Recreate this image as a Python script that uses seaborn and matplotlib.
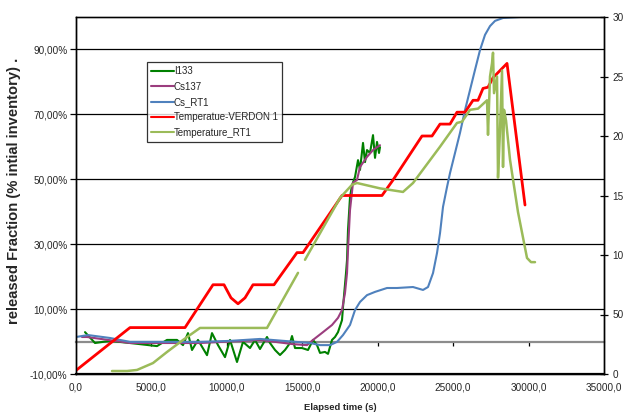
import numpy as np
import pandas as pd
import matplotlib
matplotlib.use("Agg")
import matplotlib.pyplot as plt
import seaborn as sns

# ---------------- data ----------------
i133_t = [597, 1260, 2254, 3580, 5369, 6032, 6695, 7093, 7424, 7690, 8087, 8684, 9015, 9413,
          9877, 10209, 10673, 11070, 11534, 11866, 12197, 12661, 12860, 13192, 13523, 13855,
          14186, 14319, 14518, 14982, 15379, 15711, 15976, 16175, 16506, 16705, 16970, 17169,
          17368, 17633, 17699, 17898, 17965, 18031, 18163, 18296, 18495, 18694, 18826, 19025,
          19158, 19290, 19489, 19688, 19821, 19953, 20086, 20152]
i133_v = [2.9, -0.45, 0.2, -0.45, -1.4, 0.5, 0.5, -1.1, 2.6, -2.6, 0.5, -4.2, 2.6, -1.1,
          -4.8, 0.5, -6.3, -0.1, -2.0, 0.5, -2.3, 1.4, -0.45, -2.6, -4.15, -2.6,
          -0.45, 1.7, -2.0, -2.0, -2.6, 0.5, -1.1, -3.5, -3.2, -3.8, 0.5, 1.4,
          2.9, 6.6, 10.6, 21.1, 25.1, 34.4, 44.5, 48.2, 50.7, 55.9, 52.9, 61.2,
          55.3, 59.0, 58.1, 63.6, 56.6, 61.5, 58.1, 59.9]

cs137_t = [398, 729, 3580, 8220, 12197, 14385, 15313, 15711, 16374, 16970, 17368, 17633,
           17832, 17965, 18031, 18163, 18362, 18627, 18826, 19290, 19688, 20152]
cs137_v = [1.4, 1.4, -0.45, -0.45, 0.5, -0.8, -1.1, 0.5, 2.9, 5.1, 7.3, 9.7,
           15.0, 21.1, 28.2, 40.5, 48.9, 49.8, 53.8, 56.9, 59.0, 60.5]

csrt1_t = [0, 795, 2254, 3580, 8220, 10209, 12197, 15512, 16175, 16837, 17302, 17699, 18163,
           18495, 18826, 19290, 19821, 20616, 21279, 22340, 23003, 23334, 23666, 23931, 24130,
           24328, 24593, 24792, 25124, 25455, 25787, 26118, 26449, 26781, 27113, 27444, 27776,
           28306, 29433]
csrt1_v = [1.4, 2.0, 1.1, -0.1, -0.1, 0.2, 0.8, -0.45, -1.1, -1.1, -0.1, 2.0, 5.1,
           9.7, 12.2, 14.3, 15.3, 16.5, 16.5, 16.8, 15.9, 16.8, 21.1, 27.3, 33.4,
           41.5, 47.6, 51.9, 58.1, 64.3, 71.3, 77.5, 83.7, 89.8, 94.5, 97.2, 98.8,
           99.7, 100.0]

verdon_t = [0, 3580, 7226, 9082, 9811, 10275, 10739, 11203, 11733, 13125, 14650, 15048,
            17633, 20285, 21014, 22936, 23599, 24130, 24792, 25256, 25787, 26317, 26649,
            26980, 27311, 27643, 28571, 29764]
verdon_v = [0.3, 3.9, 3.9, 7.5, 7.5, 6.4, 5.9, 6.4, 7.5, 7.5, 10.2, 10.2,
            15.0, 15.0, 16.3, 20.0, 20.0, 21.0, 21.0, 22.0, 22.0, 23.0, 23.0,
            24.0, 24.1, 24.9, 26.1, 14.2]

rt1_t = [2386, 3381, 4044, 5104, 6032, 7093, 8220, 12661, 14716, np.nan, 15180, 17501,
         18296, 18627, 20152, 21677, 22340, 24130, 25256, 25588, 26118, 26649, 27246,
         27311, 27444, 27576, 27643, 27709, 27908, 27974, 28107, 28240, 28306, 28372,
         28505, 28770, 29300, 29897, 30162, 30427]
rt1_v = [0.25, 0.25, 0.34, 0.92, 1.85, 2.86, 3.87, 3.87, 8.5, np.nan, 9.6, 14.8,
         15.9, 16.05, 15.6, 15.3, 16.05, 19.1, 21.1, 21.2, 22.2, 22.3, 23.0,
         20.1, 25.0, 26.1, 27.0, 23.6, 25.0, 16.5, 20.5, 25.5, 17.4, 22.2,
         21.3, 18.0, 13.6, 9.75, 9.4, 9.4]

x_ticks = [0, 5000, 10000, 15000, 20000, 25000, 30000, 35000]
left_ticks = [-10, 10, 30, 50, 70, 90]
right_ticks = [0, 5, 10, 15, 20, 25, 30]
right_tick_labels = ['0', '50', '10', '15', '20', '25', '30']

series_left = [("I133", i133_t, i133_v, "#008000"),
               ("Cs137", cs137_t, cs137_v, "#9B3D7E"),
               ("Cs_RT1", csrt1_t, csrt1_v, "#4F81BD")]
series_right = [("Temperatue-VERDON 1", verdon_t, verdon_v, "#FF0000"),
                ("Temperature_RT1", rt1_t, rt1_v, "#9BBB59")]

# ---------------- style ----------------
sns.set_style("white")
plt.rcParams['font.family'] = ['Liberation Sans', 'DejaVu Sans']

fig = plt.figure(figsize=(6.25, 4.12), dpi=100)
ax = fig.add_axes([76 / 625, 1 - 374 / 412, 528 / 625, 357 / 412])
ax2 = ax.twinx()

handles = []
for name, t, v, c in series_left:
    df = pd.DataFrame({"t": t, "v": v})
    sns.lineplot(data=df, x="t", y="v", ax=ax, color=c, lw=1.5, sort=False,
                 estimator=None, legend=False)
    handles.append(plt.Line2D([], [], color=c, lw=1.5, label=name))

for name, t, v, c in series_right:
    df = pd.DataFrame({"t": t, "v": v})
    grp = df["t"].isna().cumsum()
    for _, seg in df.dropna().groupby(grp[df["t"].notna()]):
        sns.lineplot(data=seg, x="t", y="v", ax=ax2, color=c,
                     lw=2.0 if c == "#FF0000" else 1.8, sort=False,
                     estimator=None, legend=False)
    handles.append(plt.Line2D([], [], color=c, lw=1.5, label=name))

# axes limits
ax.set_xlim(0, 35000)
ax.set_ylim(-10, 100)
ax2.set_ylim(0, 30)

# gridlines at left major ticks
for yv in left_ticks:
    ax.axhline(yv, color="black", lw=0.9, zorder=0.5)

# x axis crossing at 0 % (grey) with tick marks
sec = ax.secondary_xaxis(10 / 110)
sec.set_xticks(x_ticks[1:-1])
sec.set_xticklabels([])
sec.spines['bottom'].set_color("#8C8C8C")
sec.spines['bottom'].set_linewidth(1.6)
sec.tick_params(axis='x', direction='out', length=3, width=0.9, color='black')

# ticks & labels
ax.set_xticks(x_ticks)
ax.set_xticklabels([f"{x:.1f}".replace('.', ',') for x in x_ticks], fontsize=7.2)
ax.tick_params(axis='x', length=0, pad=6)
ax.set_yticks(left_ticks)
ax.set_yticklabels([f"{y:.2f}".replace('.', ',') + "%" for y in left_ticks], fontsize=7.2)
ax.tick_params(axis='y', direction='out', length=4, width=0.9, color='black', pad=2)
ax2.set_yticks(right_ticks)
ax2.set_yticklabels(right_tick_labels, fontsize=7.2)
ax2.tick_params(axis='y', direction='inout', length=6, width=0.9, color='black', pad=3)
ax.set_xlabel("Elapsed time (s)", fontsize=6.8, fontweight='bold', labelpad=8)
ax.set_ylabel("released Fraction (% intial inventory) .", fontsize=10.6,
              fontweight='bold')
ax2.set_ylabel("")
ax.yaxis.set_label_coords(-0.104, 0.513)

for a in (ax, ax2):
    for s in a.spines.values():
        s.set_color("black")
        s.set_linewidth(1.0)
ax.spines['bottom'].set_linewidth(1.6)
ax.spines['top'].set_color("#444444")

leg = ax2.legend(handles=handles, loc='upper left', bbox_to_anchor=(0.1345, 0.874),
                 fontsize=7, frameon=True, fancybox=False, edgecolor='black',
                 handlelength=2.3, handletextpad=0.0, labelspacing=0.55,
                 borderpad=0.45, borderaxespad=0)
leg.get_frame().set_linewidth(0.9)

fig.savefig("out.png", dpi=100)
